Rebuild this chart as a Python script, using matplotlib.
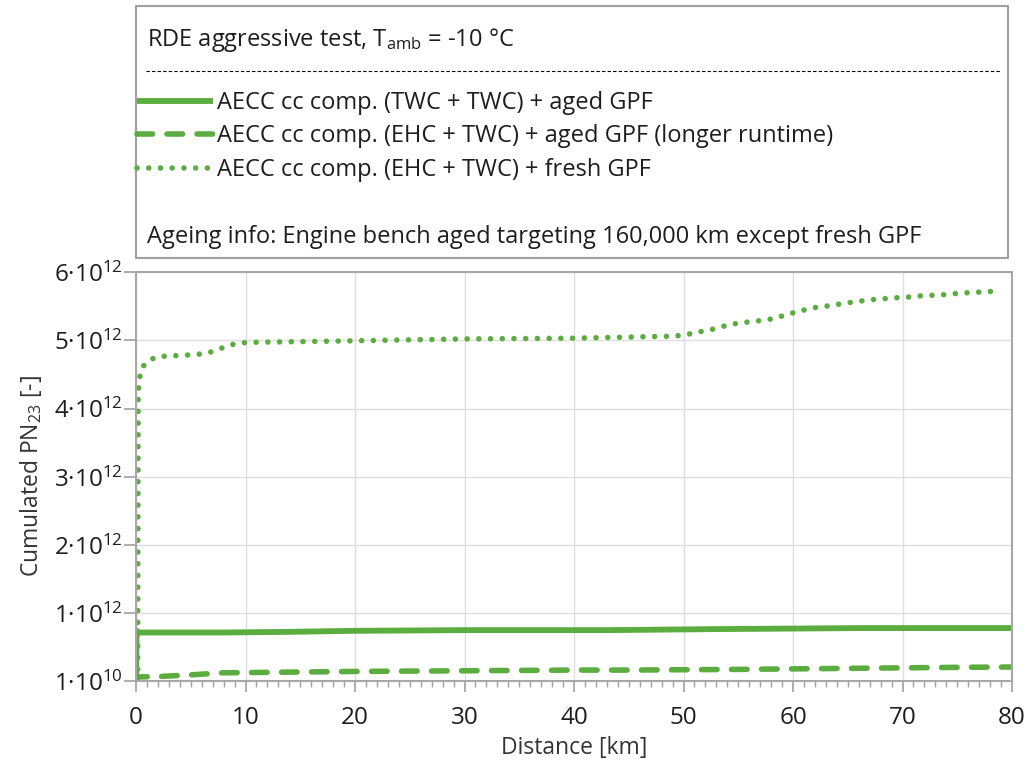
import matplotlib
matplotlib.use('Agg')
import matplotlib.pyplot as plt
from matplotlib.lines import Line2D
from matplotlib.patches import Rectangle
from matplotlib.ticker import MultipleLocator

plt.rcParams['font.family'] = ['Open Sans', 'DejaVu Sans']
plt.rcParams['mathtext.fontset'] = 'custom'
plt.rcParams['mathtext.rm'] = 'Open Sans'
plt.rcParams['mathtext.default'] = 'regular'

# distance [km] and cumulated PN23 [1e12]
dist_twc_aged = [0, 0.05, 0.1, 0.3, 8, 14, 20, 30, 40, 43, 53, 66, 80]
pn_twc_aged = [0.01, 0.75, 0.72, 0.72, 0.72, 0.73, 0.745, 0.755, 0.755, 0.755, 0.77, 0.785, 0.785]

dist_ehc_aged = [0, 0.05, 0.3, 2, 5, 8, 20, 30, 40, 45, 55, 65, 75, 80]
pn_ehc_aged = [0.01, 0.08, 0.07, 0.075, 0.1, 0.13, 0.15, 0.16, 0.17, 0.17, 0.18, 0.195, 0.21, 0.215]

dist_ehc_fresh = [0.15, 0.2, 0.3, 0.5, 1.1, 1.95, 3.05, 4.2, 5.4, 6.45, 7.45, 8.35, 9.35,
                  10.5, 19, 30, 39.7, 49.1, 50.2, 51.3, 52.4, 53.5, 55.2, 56.2, 58.4, 59.4,
                  60.5, 61.6, 63.5, 64.6, 66.9, 69.1, 70.4, 71.6, 74.0, 75.2, 77.5, 78.7]
pn_ehc_fresh = [0.01, 4.23, 4.42, 4.59, 4.70, 4.76, 4.77, 4.78, 4.79, 4.81, 4.86, 4.92, 4.96,
                4.97, 4.99, 5.02, 5.03, 5.06, 5.08, 5.12, 5.15, 5.20, 5.26, 5.27, 5.32, 5.38,
                5.42, 5.47, 5.51, 5.54, 5.59, 5.62, 5.63, 5.65, 5.67, 5.69, 5.71, 5.72]

labels = ['AECC cc comp. (TWC + TWC) + aged GPF',
          'AECC cc comp. (EHC + TWC) + aged GPF (longer runtime)',
          'AECC cc comp. (EHC + TWC) + fresh GPF']
ytick_vals = [1e10, 1e12, 2e12, 3e12, 4e12, 5e12, 6e12]
ytick_labels = ['1·10$^{10}$', '1·10$^{12}$', '2·10$^{12}$', '3·10$^{12}$',
                '4·10$^{12}$', '5·10$^{12}$', '6·10$^{12}$']

green = '#5bad3f'
txt = '#1e1e1e'
W, H = 1027, 765
fig = plt.figure(figsize=(W / 100, H / 100), dpi=100)
ax = fig.add_axes([136 / W, 1 - 681 / H, (1012 - 136) / W, (681 - 272) / H])

l1, = ax.plot(dist_twc_aged, [v * 1e12 for v in pn_twc_aged], color=green, lw=4.2,
              solid_capstyle='butt')
l2, = ax.plot(dist_ehc_aged, [v * 1e12 for v in pn_ehc_aged], color=green, lw=4,
              linestyle=(0, (2.8, 2.6)), dash_capstyle='round')
l3, = ax.plot(dist_ehc_fresh, [v * 1e12 for v in pn_ehc_fresh], color=green, lw=4,
              linestyle=(0, (0.01, 2.1)), dash_capstyle='round')

ax.set_xlim(0, 80)
ax.set_ylim(1e10, 6e12)
ax.xaxis.set_major_locator(MultipleLocator(10))
ax.xaxis.set_minor_locator(MultipleLocator(1))
ax.set_yticks(ytick_vals)
ax.set_yticklabels(ytick_labels)
ax.grid(True, which='major', color='#dedede', lw=1)
ax.set_axisbelow(True)
for s in ax.spines.values():
    s.set_color('#a8a8a8')
    s.set_linewidth(1.5)
ax.tick_params(axis='both', which='major', color='#a0a0a0', width=1.2, labelsize=17.5,
               labelcolor=txt)
ax.tick_params(axis='x', which='major', length=8, pad=10)
ax.tick_params(axis='x', which='minor', length=4, color='#a0a0a0', width=1)
ax.tick_params(axis='y', which='major', length=8.5, pad=1)
ax.set_xlabel('Distance [km]', fontsize=16.5, color='#333333', labelpad=4)
ax.set_ylabel('Cumulated PN$_{23}$ [-]', fontsize=16.5, color='#333333', labelpad=7)

# header box with legend
fig.add_artist(Rectangle((136 / W, 1 - 258 / H), (1008 - 136) / W, (258 - 6) / H,
                         transform=fig.transFigure, fill=False, edgecolor='#a0a0a0', lw=1.5))
fig.text(147 / W, 1 - 40 / H, 'RDE aggressive test, T$_{amb}$ = -10 °C', fontsize=17,
         va='center', ha='left', color=txt)
fig.add_artist(Line2D([146 / W, 1000 / W], [1 - 71 / H, 1 - 71 / H], transform=fig.transFigure,
                      color='black', lw=0.8, linestyle=(0, (3, 2))))
fig.text(147 / W, 1 - 237 / H, 'Ageing info: Engine bench aged targeting 160,000 km except fresh GPF',
         fontsize=17, va='center', ha='left', color=txt)
fig.legend(handles=[l1, l2, l3], labels=labels, loc='upper left',
           bbox_to_anchor=(137 / W, 1 - 91 / H), frameon=False, fontsize=17,
           handlelength=3.2, handletextpad=0.2, labelspacing=0.4, borderpad=0,
           borderaxespad=0, labelcolor=txt)

fig.savefig('out.png', dpi=100)
